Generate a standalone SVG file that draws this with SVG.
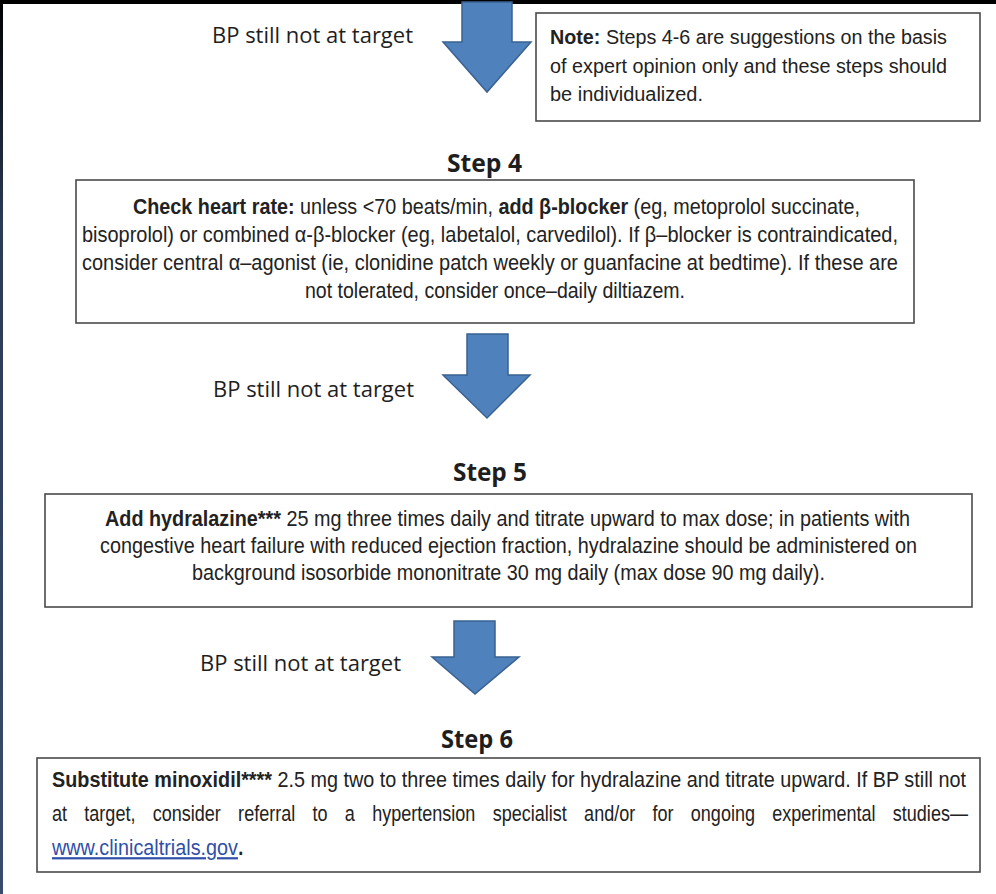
<svg xmlns="http://www.w3.org/2000/svg" width="996" height="894" viewBox="0 0 996 894">
<style>
.box{fill:#fff;stroke:#4a4a4a;stroke-width:1.6}
.arrow{fill:#4F81BD;stroke:#3A6190;stroke-width:1.5;stroke-linejoin:miter}
.lbl{font-family:"Open Sans","Noto Sans",sans-serif;font-size:22px;fill:#1e1e1e}
.head{font-family:"Open Sans","Noto Sans",sans-serif;font-size:25px;font-weight:700;fill:#1e1e1e}
.t{font-family:"Liberation Sans",Arial,sans-serif;font-size:22px;fill:#222}
.n{font-family:"Liberation Sans",Arial,sans-serif;font-size:20px;fill:#222}
.b{font-weight:700}
.link{fill:#2F4FA8;text-decoration:underline}
</style>
<defs>
<linearGradient id="edge" x1="0" y1="0" x2="0" y2="1">
<stop offset="0" stop-color="#000"/>
<stop offset="0.25" stop-color="#2c3a55"/>
<stop offset="1" stop-color="#3b4b6b"/>
</linearGradient>
</defs>
<rect x="0" y="0" width="996" height="894" fill="#fff"/>
<rect x="0" y="0" width="3" height="894" fill="url(#edge)"/>
<rect x="0" y="0" width="996" height="4" fill="#000"/>

<g id="connectors">
<polygon class="arrow" points="462,2 512,2 512,42 531,42 487,92 443,42 462,42"/>
<text class="lbl" x="212" y="43" textLength="201" lengthAdjust="spacingAndGlyphs">BP still not at target</text>
<polygon class="arrow" points="467,334 508,334 508,375 530,375 487,418 443,375 467,375"/>
<text class="lbl" x="213" y="397" textLength="201" lengthAdjust="spacingAndGlyphs">BP still not at target</text>
<polygon class="arrow" points="454,621 495,621 495,657 519,657 475,694 432,657 454,657"/>
<text class="lbl" x="200" y="671" textLength="201" lengthAdjust="spacingAndGlyphs">BP still not at target</text>
</g>

<g id="note">
<rect class="box" x="536" y="13" width="444" height="108"/>
<text class="n" x="550" y="44" textLength="397" lengthAdjust="spacingAndGlyphs"><tspan class="b">Note:</tspan> Steps 4-6 are suggestions on the basis</text>
<text class="n" x="550" y="73" textLength="397" lengthAdjust="spacingAndGlyphs">of expert opinion only and these steps should</text>
<text class="n" x="550" y="101" textLength="153" lengthAdjust="spacingAndGlyphs">be individualized.</text>
</g>

<g id="step4">
<text class="head" x="447" y="172" textLength="75" lengthAdjust="spacingAndGlyphs">Step 4</text>
<rect class="box" x="76" y="180" width="838" height="143"/>
<g transform="scale(0.82,1)">
<text class="t" x="162.2" y="214" textLength="886.6" lengthAdjust="spacingAndGlyphs"><tspan class="b">Check heart rate:</tspan> unless &lt;70 beats/min, <tspan class="b">add β-blocker</tspan> (eg, metoprolol succinate,</text>
<text class="t" x="100" y="242" textLength="995.1" lengthAdjust="spacingAndGlyphs">bisoprolol) or combined α-β-blocker (eg, labetalol, carvedilol). If β–blocker is contraindicated,</text>
<text class="t" x="100" y="270" textLength="995.1" lengthAdjust="spacingAndGlyphs">consider central α–agonist (ie, clonidine patch weekly or guanfacine at bedtime). If these are</text>
<text class="t" x="371.95" y="298" textLength="463.4" lengthAdjust="spacingAndGlyphs">not tolerated, consider once–daily diltiazem.</text>
</g>
</g>

<g id="step5">
<text class="head" x="453" y="481" textLength="74" lengthAdjust="spacingAndGlyphs">Step 5</text>
<rect class="box" x="45" y="494" width="927" height="113"/>
<g transform="scale(0.82,1)">
<text class="t" x="128.05" y="526" textLength="981.7" lengthAdjust="spacingAndGlyphs"><tspan class="b">Add hydralazine***</tspan> 25 mg three times daily and titrate upward to max dose; in patients with</text>
<text class="t" x="121.95" y="553" textLength="996.3" lengthAdjust="spacingAndGlyphs">congestive heart failure with reduced ejection fraction, hydralazine should be administered on</text>
<text class="t" x="234.15" y="580" textLength="771.9" lengthAdjust="spacingAndGlyphs">background isosorbide mononitrate 30 mg daily (max dose 90 mg daily).</text>
</g>
</g>

<g id="step6">
<text class="head" x="441" y="748" textLength="72" lengthAdjust="spacingAndGlyphs">Step 6</text>
<rect class="box" x="37" y="758" width="943" height="114"/>
<g transform="scale(0.82,1)">
<text class="t" x="63.41" y="787" textLength="1114.6" lengthAdjust="spacingAndGlyphs"><tspan class="b">Substitute minoxidil****</tspan> 2.5 mg two to three times daily for hydralazine and titrate upward. If BP still not</text>
<text class="t" y="821"><tspan x="63.41">at</tspan><tspan x="102.82">target,</tspan><tspan x="186.23">consider</tspan><tspan x="290.41">referral</tspan><tspan x="381.13">to</tspan><tspan x="420.54">a</tspan><tspan x="453.82">hypertension</tspan><tspan x="600.82">specialist</tspan><tspan x="712.33">and/or</tspan><tspan x="795.74">for</tspan><tspan x="842.46">ongoing</tspan><tspan x="941.79">experimental</tspan><tspan x="1088.77">studies—</tspan></text>
<text class="t link" x="63.41" y="855" textLength="226.8" lengthAdjust="spacingAndGlyphs">www.clinicaltrials.gov</text>
<text class="t b" x="290.5" y="855">.</text>
</g>
</g>
</svg>
